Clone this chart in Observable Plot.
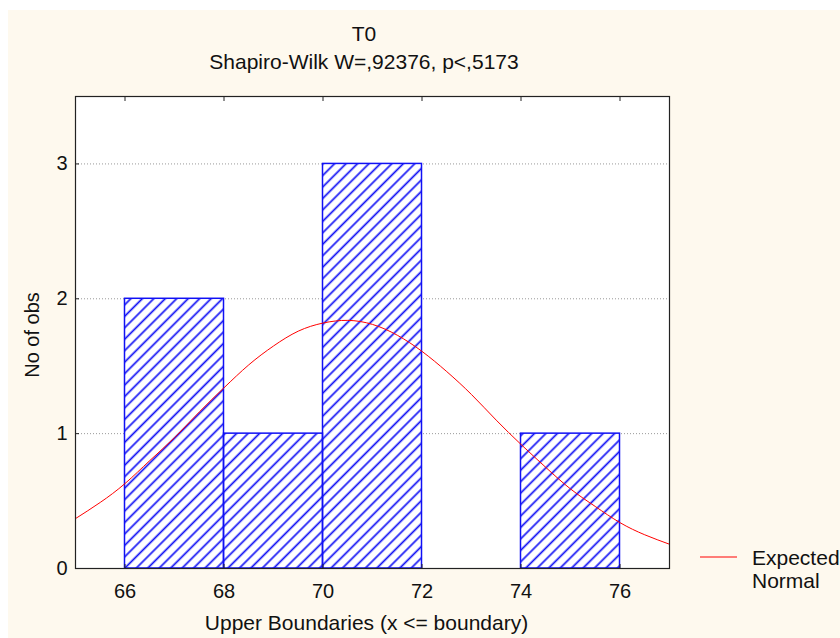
<!DOCTYPE html>
<html>
<head>
<meta charset="utf-8">
<script src="https://cdn.jsdelivr.net/npm/d3@7"></script>
<script src="https://cdn.jsdelivr.net/npm/@observablehq/plot@0.6"></script>
<style>
  html, body { margin: 0; padding: 0; background: #ffffff; }
  #page { position: relative; width: 840px; height: 638px; overflow: hidden; font-family: "Liberation Sans", Arial, sans-serif; color: #111; }
  #bg { position: absolute; left: 8px; top: 10px; right: 0; bottom: 0; background: #fef9ee; }
  #chart { position: absolute; left: 0; top: 0; }
  .t { position: absolute; white-space: nowrap; font-size: 21px; line-height: 1; }
</style>
</head>
<body>
<div id="page">
  <div id="bg"></div>
  <div id="chart"></div>
  <div class="t" id="title" style="left:0;width:728px;text-align:center;top:23px;">T0</div>
  <div class="t" id="subtitle" style="left:0;width:728px;text-align:center;top:51px;">Shapiro-Wilk W=,92376, p&lt;,5173</div>
  <div class="t" id="xlabel" style="left:0;width:733px;text-align:center;top:612px;">Upper Boundaries (x &lt;= boundary)</div>
  <div class="t" id="ylabel" style="left:32px;top:335px;font-size:20px;transform:translate(-50%,-50%) rotate(-90deg);">No of obs</div>
  <svg style="position:absolute;left:700px;top:552px;" width="40" height="10"><line x1="0" x2="37" y1="5" y2="5" stroke="#ff0000" stroke-width="1"/></svg>
  <div class="t" style="left:752px;top:547px;">Expected</div>
  <div class="t" style="left:752px;top:570px;">Normal</div>
</div>
<script>
// Histogram bins (upper boundaries) and counts
const binStart = [66, 68, 70, 72, 74];
const binEnd   = [68, 70, 72, 74, 76];
const counts   = [2, 1, 3, 0, 1];

// Expected normal curve
const curveX = [65, 65.5, 66, 66.5, 67, 67.5, 68, 68.5, 69, 69.5, 70, 70.5, 71, 71.5, 72, 72.5, 73, 73.5, 74, 74.5, 75, 75.5, 76, 76.5, 77];
const curveY = [0.37, 0.49, 0.63, 0.80, 0.97, 1.16, 1.34, 1.51, 1.65, 1.76, 1.82, 1.84, 1.81, 1.73, 1.61, 1.46, 1.29, 1.10, 0.92, 0.75, 0.59, 0.46, 0.34, 0.25, 0.18];

// Tick labels
const xTicks = [66, 68, 70, 72, 74, 76];
const yTicks = [0, 1, 2, 3];
const gridTicks = [1, 2, 3];

const bins = binStart.map((s, i) => ({x1: s, x2: binEnd[i], count: counts[i]}));
const curve = curveX.map((x, i) => ({x, y: curveY[i]}));

const blue = "#1010f4";
const font = "Liberation Sans, Arial, sans-serif";

const chart = Plot.plot({
  width: 840,
  height: 638,
  marginLeft: 75,
  marginRight: 171,
  marginTop: 96,
  marginBottom: 70,
  style: {background: "transparent", fontFamily: font, fontSize: "20px", color: "#111", overflow: "visible"},
  x: {domain: [65, 77]},
  y: {domain: [0, 3.5]},
  marks: [
    Plot.frame({fill: "white", stroke: "none"}),
    Plot.ruleY(gridTicks, {stroke: "#999", strokeWidth: 1, strokeDasharray: "1,2"}),
    Plot.rectY(bins, {x1: "x1", x2: "x2", y: "count", fill: "white"}),
    Plot.rectY(bins, {x1: "x1", x2: "x2", y: "count", fill: "url(#hatch)", stroke: blue, strokeWidth: 1.5}),
    Plot.line(curve, {x: "x", y: "y", stroke: "#ff0000", strokeWidth: 1, curve: "natural", clip: true}),
    Plot.frame({stroke: "#222", strokeWidth: 1.2}),
    Plot.axisX(xTicks, {anchor: "bottom", tickSize: 0, tickPadding: 15, label: null, fontSize: 20}),
    Plot.axisX(xTicks, {anchor: "bottom", tickSize: 4, dy: -4, tickFormat: () => "", label: null, stroke: "#222"}),
    Plot.axisX(xTicks, {anchor: "top", tickSize: 4, dy: 4, tickFormat: () => "", label: null, stroke: "#222"}),
    Plot.axisY(yTicks, {anchor: "left", tickSize: 0, tickPadding: 8, tickFormat: d3.format("d"), label: null, fontSize: 20}),
    Plot.axisY(yTicks, {anchor: "left", tickSize: 4, dx: 4, tickFormat: () => "", label: null, stroke: "#222"})
  ]
});

const svg = d3.select(chart);
const defs = svg.insert("defs", ":first-child");
const pat = defs.append("pattern")
  .attr("id", "hatch")
  .attr("patternUnits", "userSpaceOnUse")
  .attr("width", 8.1)
  .attr("height", 8.1)
  .attr("patternTransform", "rotate(45)");
pat.append("line")
  .attr("x1", 4).attr("y1", -1).attr("x2", 4).attr("y2", 9.1)
  .attr("stroke", blue).attr("stroke-width", 1.7);

document.getElementById("chart").appendChild(chart);
</script>
</body>
</html>
